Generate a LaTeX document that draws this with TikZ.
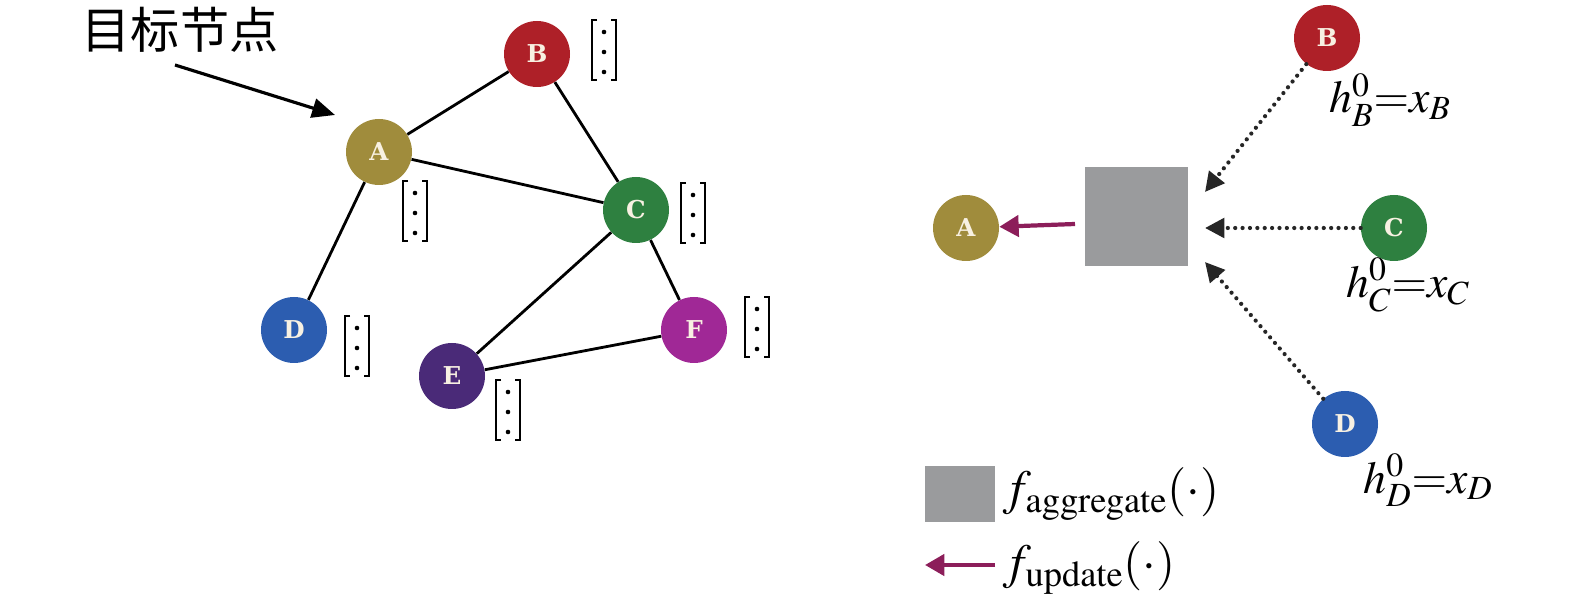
\documentclass[tikz,border=0pt]{standalone}
\usepackage{mathptmx}
\usepackage{fontspec}
\setmainfont{Liberation Serif}
\newfontfamily\cjk{Noto Sans CJK SC}
\newfontfamily\lbl{DejaVu Serif}
\usetikzlibrary{arrows.meta}
\definecolor{cA}{HTML}{A08C3C}
\definecolor{cB}{HTML}{AE2028}
\definecolor{cC}{HTML}{2E8040}
\definecolor{cD}{HTML}{2C5DB0}
\definecolor{cE}{HTML}{4A2A78}
\definecolor{cF}{HTML}{A02896}
\definecolor{cream}{HTML}{F8F1E2}
\definecolor{pinkarr}{HTML}{8C1E5A}
\definecolor{boxgray}{HTML}{9A9B9D}
\tikzset{
  gnode/.style={circle, minimum size=66*0.02cm, inner sep=0pt, text=cream, font=\lbl\bfseries\fontsize{14}{14}\selectfont},
  edge/.style={line width=1.6pt, black},
  dotarr/.style={line width=2.4pt, dash pattern=on 0pt off 4.2pt, line cap=round, black!85, -{Triangle[length=11pt,width=11pt]}},
  updarr/.style={line width=2.4pt, pinkarr, -{Triangle[length=11pt,width=12pt]}},
  aggbox/.style={fill=boxgray, draw=none, inner sep=0pt},
  mlabel/.style={font=\fontsize{26}{26}\selectfont, inner sep=0pt},
  pics/vec/.style={code={
    \draw[line width=1.1pt] (5,0) -- (0,0) -- (0,60) -- (5,60);
    \draw[line width=1.1pt] (19,0) -- (24,0) -- (24,60) -- (19,60);
    \fill (12,12) circle (2.3);
    \fill (12,32) circle (2.3);
    \fill (12,52) circle (2.3);
  }}
}
\begin{document}
\begin{tikzpicture}[x=0.02cm, y=-0.02cm]
\useasboundingbox (0,0) rectangle (1575,607);
% left graph
\node[gnode, fill=cA] (A) at (379,152) {A};
\node[gnode, fill=cB] (B) at (537,54) {B};
\node[gnode, fill=cC] (C) at (636,210) {C};
\node[gnode, fill=cD] (D) at (294,330) {D};
\node[gnode, fill=cE] (E) at (452,376) {E};
\node[gnode, fill=cF] (F) at (694,330) {F};
\draw[edge] (A) -- (B);
\draw[edge] (A) -- (C);
\draw[edge] (A) -- (D);
\draw[edge] (B) -- (C);
\draw[edge] (C) -- (E);
\draw[edge] (C) -- (F);
\draw[edge] (E) -- (F);
\pic at (592,20) {vec};
\pic at (403,181) {vec};
\pic at (681,183) {vec};
\pic at (345,316) {vec};
\pic at (745,297) {vec};
\pic at (496,380) {vec};
\node[font=\cjk\fontsize{28}{28}\selectfont, inner sep=0pt] (target) at (180,30) {目标节点};
\coordinate (tstart) at (175,65);
\draw[line width=1.8pt, -{Triangle[length=13pt,width=11pt]}] (tstart) -- (335,115);
% right diagram
\node[gnode, fill=cA] (A2) at (966,228) {A};
\node[gnode, fill=cB] (B2) at (1327,38) {B};
\node[gnode, fill=cC] (C2) at (1394,228) {C};
\node[gnode, fill=cD] (D2) at (1345,424) {D};
\node[aggbox, minimum width=103*0.02cm, minimum height=99*0.02cm] (agg) at (1136.5,216.5) {};
\coordinate (inB) at (1205,192);
\coordinate (inC) at (1205,228);
\coordinate (inD) at (1205,262);
\draw[dotarr] (B2) -- (inB);
\draw[dotarr] (C2) -- (inC);
\draw[dotarr] (D2) -- (inD);
\coordinate (updS) at (1075,224);
\draw[updarr] (updS) -- (A2);
\node[mlabel] (hB) at (1390,100) {$h_B^0{=}x_B$};
\node[mlabel] (hC) at (1408,285) {$h_C^0{=}x_C$};
\node[mlabel] (hD) at (1428,480) {$h_D^0{=}x_D$};
% legend
\node[aggbox, minimum width=70*0.02cm, minimum height=56*0.02cm] (legbox) at (960,494) {};
\node[mlabel, anchor=west, font=\fontsize{28}{28}\selectfont] (legagg) at (1003,494) {$f_{\mathrm{aggregate}}(\cdot)$};
\coordinate (legS) at (995,565);
\coordinate (legE) at (925,565);
\draw[updarr] (legS) -- (legE);
\node[mlabel, anchor=west, font=\fontsize{28}{28}\selectfont] (legupd) at (1003,568) {$f_{\mathrm{update}}(\cdot)$};
\end{tikzpicture}
\end{document}
